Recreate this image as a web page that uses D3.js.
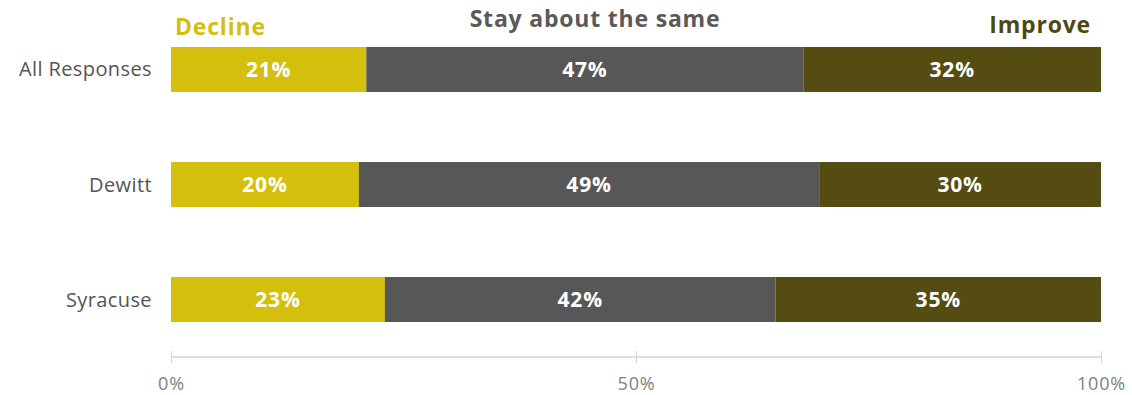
<!DOCTYPE html>
<html>
<head>
<meta charset="utf-8">
<script src="https://cdn.jsdelivr.net/npm/d3@7"></script>
<style>
  html, body { margin: 0; padding: 0; background: #fff; }
  svg { display: block; font-family: "Open Sans", "Lato", sans-serif; }
</style>
</head>
<body>
<svg id="chart" width="1132" height="395"></svg>
<script>
// Survey responses by area (percent)
const categories = ["All Responses", "Dewitt", "Syracuse"];
const seriesNames = ["Decline", "Stay about the same", "Improve"];
const declineValues = [21, 20, 23];
const sameValues = [47, 49, 42];
const improveValues = [32, 30, 35];
const tickLabels = ["0%", "50%", "100%"];
const tickValues = [0, 0.5, 1];

const colors = ["#d4bf0c", "#575757", "#544c10"];
const headerColors = ["#d4bf0c", "#595959", "#4f4810"];

const rows = categories.map((c, i) => ({
  category: c,
  "Decline": declineValues[i],
  "Stay about the same": sameValues[i],
  "Improve": improveValues[i]
}));

// Normalise each row so the stack fills the full width
const stack = d3.stack().keys(seriesNames).offset(d3.stackOffsetExpand);
const layers = stack(rows);

const svg = d3.select("#chart");
const x = d3.scaleLinear().domain([0, 1]).range([171, 1101]);
const y = d3.scaleBand().domain(categories).range([24, 345]).paddingInner(0.6087).paddingOuter(0.2);

// Bars
const g = svg.append("g");
layers.forEach((layer, li) => {
  g.selectAll(null)
    .data(layer)
    .join("rect")
    .attr("x", d => x(d[0]))
    .attr("y", d => y(d.data.category))
    .attr("width", d => x(d[1]) - x(d[0]))
    .attr("height", y.bandwidth())
    .attr("fill", colors[li]);

  g.selectAll(null)
    .data(layer)
    .join("text")
    .attr("x", d => (x(d[0]) + x(d[1])) / 2)
    .attr("y", d => y(d.data.category) + y.bandwidth() / 2)
    .attr("dy", "0.36em")
    .attr("text-anchor", "middle")
    .attr("fill", "#fff")
    .attr("font-weight", 700)
    .attr("font-size", 21)
    .attr("letter-spacing", 0.8)
    .text(d => d.data[layer.key] + "%");
});

// Category labels
svg.append("g")
  .selectAll("text")
  .data(categories)
  .join("text")
  .attr("x", 152)
  .attr("y", d => y(d) + y.bandwidth() / 2)
  .attr("dy", "0.35em")
  .attr("text-anchor", "end")
  .attr("fill", "#555")
  .attr("font-size", 20)
  .attr("letter-spacing", 0.4)
  .text(d => d);

// Series headers
const headerX = [x(0) + 4, (x(0) + x(1)) / 2 - 41, x(1) - 10];
const headerY = [35, 27, 33];
const anchors = ["start", "middle", "end"];
svg.append("g")
  .selectAll("text")
  .data(seriesNames)
  .join("text")
  .attr("x", (d, i) => headerX[i])
  .attr("y", (d, i) => headerY[i])
  .attr("text-anchor", (d, i) => anchors[i])
  .attr("fill", (d, i) => headerColors[i])
  .attr("font-weight", 700)
  .attr("font-size", 23)
  .attr("letter-spacing", 0.8)
  .text(d => d);

// Axis
const axis = d3.axisBottom(x)
  .tickValues(tickValues)
  .tickFormat((d, i) => tickLabels[i])
  .tickSize(6)
  .tickPadding(14);
const ax = svg.append("g").attr("transform", "translate(0,357)").call(axis);
ax.select(".domain").attr("stroke", "#d4d4d4").attr("stroke-width", 1.5).attr("d", `M${x(0)},0H${x(1)}`);
ax.selectAll(".tick line").attr("stroke", "#d4d4d4").attr("y1", -6).attr("y2", 6);
ax.selectAll(".tick text")
  .attr("fill", "#808080")
  .attr("font-size", 18)
  .attr("letter-spacing", 0.8)
  .attr("font-family", "'Open Sans', sans-serif");
</script>
</body>
</html>
